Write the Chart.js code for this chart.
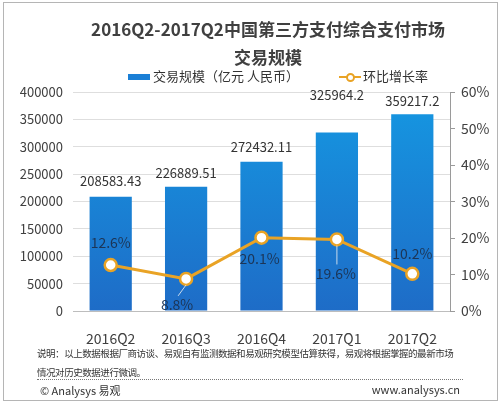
<!DOCTYPE html>
<html>
<head>
<meta charset="utf-8">
<script src="https://cdn.jsdelivr.net/npm/chart.js@4"></script>
<style>
  body { margin: 0; background: #fff; font-family: "Noto Sans CJK SC", "Noto Sans", sans-serif; }
  #wrap { position: relative; width: 500px; height: 403px; overflow: hidden; }
  #frame { position: absolute; left: 3px; top: 2px; width: 493px; height: 397px; border: 1px solid #b5b5b5; }
  #c { position: absolute; left: 0; top: 0; }
  .t { position: absolute; color: #404040; white-space: nowrap; }
  #title1 { left: 0; width: 536px; top: 16px; text-align: center; font-size: 17px; font-weight: bold; }
  #title2 { left: 0; width: 536px; top: 44px; text-align: center; font-size: 17px; font-weight: bold; }
  #legend { left: 128px; top: 66px; font-size: 13px; color: #333; }
  .box { display: inline-block; width: 22px; height: 6px; background: #1a7fd6; vertical-align: middle; margin-right: 3px; }
  .ln { display: inline-block; position: relative; width: 22px; height: 10px; vertical-align: middle; margin-right: 2px; margin-left: 40px; }
  .ln:before { content: ""; position: absolute; left: 0; right: 0; top: 4px; height: 2px; background: #e9a325; }
  .ln:after { content: ""; position: absolute; left: 7px; top: 1px; width: 5px; height: 5px; border: 2px solid #e9a325; border-radius: 50%; background: #fff; }
  #note1 { left: 37px; top: 346px; font-size: 9.5px; letter-spacing: -0.45px; color: #333; }
  #note2 { left: 37px; top: 365px; font-size: 9.5px; letter-spacing: -0.45px; color: #333; }
  #dots { position: absolute; left: 37px; top: 379px; width: 426px; border-top: 1px dotted #777; }
  #copy { left: 40px; top: 382px; font-size: 11px; color: #333; }
  #site { right: 40px; top: 381px; font-size: 11px; color: #333; }
</style>
</head>
<body>
<div id="wrap">
  <div id="frame"></div>
  <canvas id="c" width="500" height="403"></canvas>
  <div class="t" id="title1">2016Q2-2017Q2中国第三方支付综合支付市场</div>
  <div class="t" id="title2">交易规模</div>
  <div class="t" id="legend"><span class="box"></span>交易规模（亿元 人民币）<span class="ln"></span>环比增长率</div>
  <div class="t" id="note1">说明：以上数据根据厂商访谈、易观自有监测数据和易观研究模型估算获得，易观将根据掌握的最新市场</div>
  <div class="t" id="note2">情况对历史数据进行微调。</div>
  <div id="dots"></div>
  <div class="t" id="copy">© Analysys 易观</div>
  <div class="t" id="site">www.analysys.cn</div>
</div>
<script>
// 数据
const quarters = ['2016Q2', '2016Q3', '2016Q4', '2017Q1', '2017Q2'];
const volume = [208583.43, 226889.51, 272432.11, 325964.2, 359217.2];
const volumeText = ['208583.43', '226889.51', '272432.11', '325964.2', '359217.2'];
const growth = [12.6, 8.8, 20.1, 19.6, 10.2];

// label placement (px) - not data
const barLift = [16, 14, 15, 37, 13];
const pctShift = [[0, -22], [-9, 26], [-2, 21], [-1, 34], [0, -20]];

const labelPlugin = {
  id: 'labels',
  afterDatasetsDraw(chart) {
    const ctx = chart.ctx;
    const bars = chart.getDatasetMeta(1).data;
    const pts = chart.getDatasetMeta(0).data;
    ctx.save();
    ctx.textAlign = 'center';
    ctx.textBaseline = 'middle';
    ctx.font = '13px "Noto Sans CJK SC", sans-serif';
    ctx.fillStyle = '#333';
    bars.forEach((b, i) => {
      ctx.fillText(volumeText[i], b.x, b.y - barLift[i]);
    });
    ctx.font = '14px "Noto Sans CJK SC", sans-serif';
    pts.forEach((p, i) => {
      const lx = p.x + pctShift[i][0], ly = p.y + pctShift[i][1];
      if (Math.abs(pctShift[i][1]) > 24) {
        ctx.strokeStyle = 'rgba(220,230,240,0.9)';
        ctx.lineWidth = 1;
        ctx.beginPath();
        ctx.moveTo(p.x, p.y + 6);
        ctx.lineTo(lx + 1, ly - 9);
        ctx.stroke();
      }
      ctx.fillStyle = '#1c3556';
      ctx.fillText(growth[i].toFixed(1) + '%', lx, ly);
    });
    ctx.restore();
  }
};

function barFill(context) {
  const area = context.chart.chartArea;
  if (!area) return '#1a7fd6';
  const g = context.chart.ctx.createLinearGradient(0, area.top, 0, area.bottom);
  g.addColorStop(0, '#1598e2');
  g.addColorStop(1, '#1e6cc7');
  return g;
}

new Chart(document.getElementById('c'), {
  data: {
    labels: quarters,
    datasets: [{
      type: 'line',
      label: '环比增长率',
      data: growth,
      yAxisID: 'y1',
      borderColor: '#e9a325',
      borderWidth: 3,
      pointRadius: 6,
      pointBorderWidth: 2.5,
      pointBackgroundColor: '#fff',
      pointBorderColor: '#e9a325',
      tension: 0,
      order: 0
    }, {
      type: 'bar',
      label: '交易规模（亿元 人民币）',
      data: volume,
      yAxisID: 'y',
      backgroundColor: barFill,
      categoryPercentage: 1,
      barPercentage: 0.56,
      order: 1
    }]
  },
  plugins: [labelPlugin],
  options: {
    responsive: false,
    animation: false,
    devicePixelRatio: 1,
    layout: { padding: { top: 92, left: 0, right: 0, bottom: 0 } },
    plugins: { legend: { display: false }, title: { display: false }, tooltip: { enabled: false } },
    scales: {
      x: {
        grid: { display: false },
        border: { display: false },
        ticks: { color: '#404040', padding: 11, font: { size: 14, family: '"Noto Sans CJK SC", sans-serif' } },
        afterFit(s) { s.height = 92; }
      },
      y: {
        position: 'left',
        min: 0, max: 400000,
        ticks: { stepSize: 50000, color: '#404040', padding: 10, callback: v => String(v), font: { size: 13, family: '"Noto Sans CJK SC", sans-serif' } },
        grid: { drawTicks: false, color: (c) => c.tick && c.tick.value === 0 ? '#bdbdbd' : '#dedede' },
        border: { display: false },
        afterFit(s) { s.width = 73; }
      },
      y1: {
        position: 'right',
        min: 0, max: 60,
        ticks: { stepSize: 10, color: '#404040', padding: 6, callback: v => v + '%', font: { size: 14, family: '"Noto Sans CJK SC", sans-serif' } },
        grid: { drawOnChartArea: false, tickLength: 5, color: '#9a9a9a' },
        border: { display: true, color: '#9a9a9a' },
        afterFit(s) { s.width = 50; }
      }
    }
  }
});
</script>
</body>
</html>
